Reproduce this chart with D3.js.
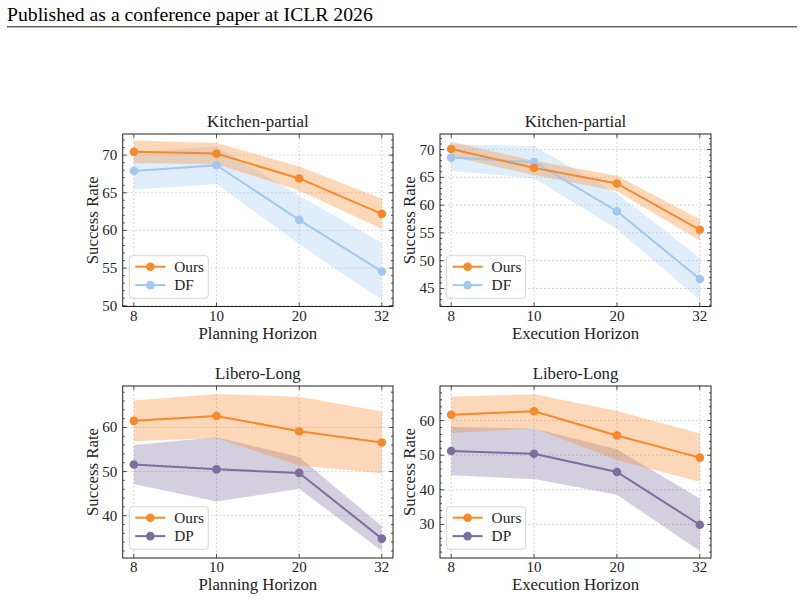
<!DOCTYPE html>
<html>
<head>
<meta charset="utf-8">
<script src="https://cdn.jsdelivr.net/npm/d3@7"></script>
<style>
  body { margin: 0; background: #fff; }
  svg text { font-family: "Liberation Serif", "Times New Roman", serif; fill: #222; }
</style>
</head>
<body>
<div id="chart-area"></div>
<script>
// horizons on the x axis (categorical, evenly spaced)
const horizons = ["8", "10", "20", "32"];

// Kitchen-partial, planning horizon
const kpPlanOurs = [70.45, 70.2, 66.9, 62.2];
const kpPlanOursStd = [1.5, 1.4, 1.6, 2.0];
const kpPlanDF = [67.9, 68.65, 61.4, 54.55];
const kpPlanDFStd = [2.5, 2.5, 3.2, 3.8];

// Kitchen-partial, execution horizon
const kpExecOurs = [70.1, 66.7, 63.9, 55.55];
const kpExecOursStd = [1.3, 1.3, 1.4, 1.9];
const kpExecDF = [68.55, 67.75, 58.9, 46.7];
const kpExecDFStd = [2.4, 2.9, 3.2, 3.8];

// Libero-Long, planning horizon
const llPlanOurs = [61.5, 62.6, 59.15, 56.6];
const llPlanOursStd = [4.6, 5.0, 7.8, 7.0];
const llPlanDP = [51.6, 50.5, 49.7, 34.8];
const llPlanDPStd = [4.4, 7.3, 3.6, 2.8];

// Libero-Long, execution horizon
const llExecOurs = [61.7, 62.7, 55.7, 49.3];
const llExecOursStd = [5.3, 4.9, 7.1, 6.95];
const llExecDP = [51.2, 50.4, 45.15, 29.9];
const llExecDPStd = [7.0, 7.3, 6.6, 7.6];

const yTicksKP1 = [50, 55, 60, 65, 70];
const yTicksKP2 = [45, 50, 55, 60, 65, 70];
const yTicksLL1 = [40, 50, 60];
const yTicksLL2 = [30, 40, 50, 60];

const colors = { Ours: "#f5892b", DF: "#a0c8f3", DP: "#7a6e9e" };

const panels = [
    { title: "Kitchen-partial", xlabel: "Planning Horizon", box: [122.7, 134, 393, 306.5], ydom: [49.9, 72.8],
      ticks: yTicksKP1, minor: 1, base: "DF", ours: kpPlanOurs, oursStd: kpPlanOursStd, other: kpPlanDF, otherStd: kpPlanDFStd },
    { title: "Kitchen-partial", xlabel: "Execution Horizon", box: [440, 134, 711, 306.5], ydom: [41.75, 72.8],
      ticks: yTicksKP2, minor: 1, base: "DF", ours: kpExecOurs, oursStd: kpExecOursStd, other: kpExecDF, otherStd: kpExecDFStd },
    { title: "Libero-Long", xlabel: "Planning Horizon", box: [122.7, 386, 393, 558], ydom: [30.4, 69.4],
      ticks: yTicksLL1, minor: 2, base: "DP", ours: llPlanOurs, oursStd: llPlanOursStd, other: llPlanDP, otherStd: llPlanDPStd },
    { title: "Libero-Long", xlabel: "Execution Horizon", box: [440, 386, 711, 558], ydom: [20.3, 70],
      ticks: yTicksLL2, minor: 2, base: "DP", ours: llExecOurs, oursStd: llExecOursStd, other: llExecDP, otherStd: llExecDPStd },
];

const svg = d3.select("#chart-area").append("svg")
    .attr("width", 804).attr("height", 601);

// page header
svg.append("text").text("Published as a conference paper at ICLR 2026")
    .attr("x", 7).attr("y", 20.5).style("font-size", "19.7px").style("fill", "#000");
svg.append("line").attr("x1", 7).attr("x2", 797).attr("y1", 26.8).attr("y2", 26.8)
    .attr("stroke", "#000").attr("stroke-width", 0.9);

const drawPanel = (p) => {
    const [x0, y0, x1, y1] = p.box;
    const g = svg.append("g");
    const x = d3.scaleLinear().domain([-0.135, 3.135]).range([x0, x1]);
    const y = d3.scaleLinear().domain(p.ydom).range([y1, y0]);
    const idx = d3.range(horizons.length);

    // grid
    g.selectAll(".gx").data(idx).enter().append("line")
        .attr("x1", x).attr("x2", x).attr("y1", y0).attr("y2", y1)
        .attr("stroke", "#bbb").attr("stroke-width", 0.6).attr("stroke-dasharray", "2,2");
    g.selectAll(".gy").data(p.ticks).enter().append("line")
        .attr("x1", x0).attr("x2", x1).attr("y1", y).attr("y2", y)
        .attr("stroke", "#bbb").attr("stroke-width", 0.6).attr("stroke-dasharray", "2,2");

    const series = [
        { name: "Ours", mean: p.ours, std: p.oursStd },
        { name: p.base, mean: p.other, std: p.otherStd },
    ];

    const area = d3.area()
        .x((d, i) => x(i))
        .y0(d => y(d.m - d.s))
        .y1(d => y(d.m + d.s));

    // bands first: other then ours (ours on top)
    [series[1], series[0]].forEach(s => {
        const pts = s.mean.map((m, i) => ({ m: m, s: s.std[i] }));
        g.append("path").attr("d", area(pts))
            .attr("fill", colors[s.name]).attr("fill-opacity", 0.33);
    });
    [series[1], series[0]].forEach(s => {
        g.append("path")
            .attr("d", d3.line().x((d, i) => x(i)).y(d => y(d))(s.mean))
            .attr("fill", "none").attr("stroke", colors[s.name]).attr("stroke-width", 2);
        g.selectAll(null).data(s.mean).enter().append("circle")
            .attr("cx", (d, i) => x(i)).attr("cy", d => y(d)).attr("r", 4.3)
            .attr("fill", colors[s.name]);
    });

    // ticks (inward, all four sides)
    const minorVals = d3.range(Math.ceil(p.ydom[0]), p.ydom[1], 1)
        .filter(v => v % p.minor === 0 && !p.ticks.includes(v));
    const tk = g.append("g").attr("stroke", "#222").attr("stroke-width", 0.8);
    p.ticks.forEach(v => {
        tk.append("line").attr("x1", x0).attr("x2", x0 + 4).attr("y1", y(v)).attr("y2", y(v));
        tk.append("line").attr("x1", x1).attr("x2", x1 - 4).attr("y1", y(v)).attr("y2", y(v));
    });
    minorVals.forEach(v => {
        tk.append("line").attr("x1", x0).attr("x2", x0 + 2).attr("y1", y(v)).attr("y2", y(v));
        tk.append("line").attr("x1", x1).attr("x2", x1 - 2).attr("y1", y(v)).attr("y2", y(v));
    });
    idx.forEach(i => {
        tk.append("line").attr("x1", x(i)).attr("x2", x(i)).attr("y1", y1).attr("y2", y1 - 4);
        tk.append("line").attr("x1", x(i)).attr("x2", x(i)).attr("y1", y0).attr("y2", y0 + 4);
    });

    // frame
    g.append("rect").attr("x", x0).attr("y", y0).attr("width", x1 - x0).attr("height", y1 - y0)
        .attr("fill", "none").attr("stroke", "#222").attr("stroke-width", 1);

    // tick labels
    g.selectAll(".xl").data(horizons).enter().append("text")
        .text(d => d).attr("x", (d, i) => x(i)).attr("y", y1 + 14)
        .attr("text-anchor", "middle").style("font-size", "15px");
    g.selectAll(".yl").data(p.ticks).enter().append("text")
        .text(d => d).attr("x", x0 - 5.5).attr("y", d => y(d) + 5)
        .attr("text-anchor", "end").style("font-size", "15px");

    // titles
    g.append("text").text(p.title).attr("x", (x0 + x1) / 2).attr("y", y0 - 7.3)
        .attr("text-anchor", "middle").style("font-size", "16.8px");
    g.append("text").text(p.xlabel).attr("x", (x0 + x1) / 2).attr("y", y1 + 32)
        .attr("text-anchor", "middle").style("font-size", "16.8px");
    g.append("text").text("Success Rate")
        .attr("transform", `translate(${x0 - 25},${(y0 + y1) / 2}) rotate(-90)`)
        .attr("text-anchor", "middle").style("font-size", "16.8px");

    // legend
    const lx = x0 + 6.6;
    const ly = y1 - 50.8 + (p.base === "DP" ? -0.5 : 0);
    const leg = g.append("g").attr("transform", `translate(${lx},${ly})`);
    leg.append("rect").attr("width", 79).attr("height", 42.6).attr("rx", 3)
        .attr("fill", "#fff").attr("fill-opacity", 0.8)
        .attr("stroke", "#ccc").attr("stroke-width", 0.8);
    series.forEach((s, i) => {
        const ry = 11 + i * 18.4;
        leg.append("line").attr("x1", 6).attr("x2", 36).attr("y1", ry).attr("y2", ry)
            .attr("stroke", colors[s.name]).attr("stroke-width", 2);
        leg.append("circle").attr("cx", 21).attr("cy", ry).attr("r", 4.3).attr("fill", colors[s.name]);
        leg.append("text").text(s.name).attr("x", 45).attr("y", ry + 5).style("font-size", "15.3px");
    });
};

panels.forEach(drawPanel);
</script>
</body>
</html>
